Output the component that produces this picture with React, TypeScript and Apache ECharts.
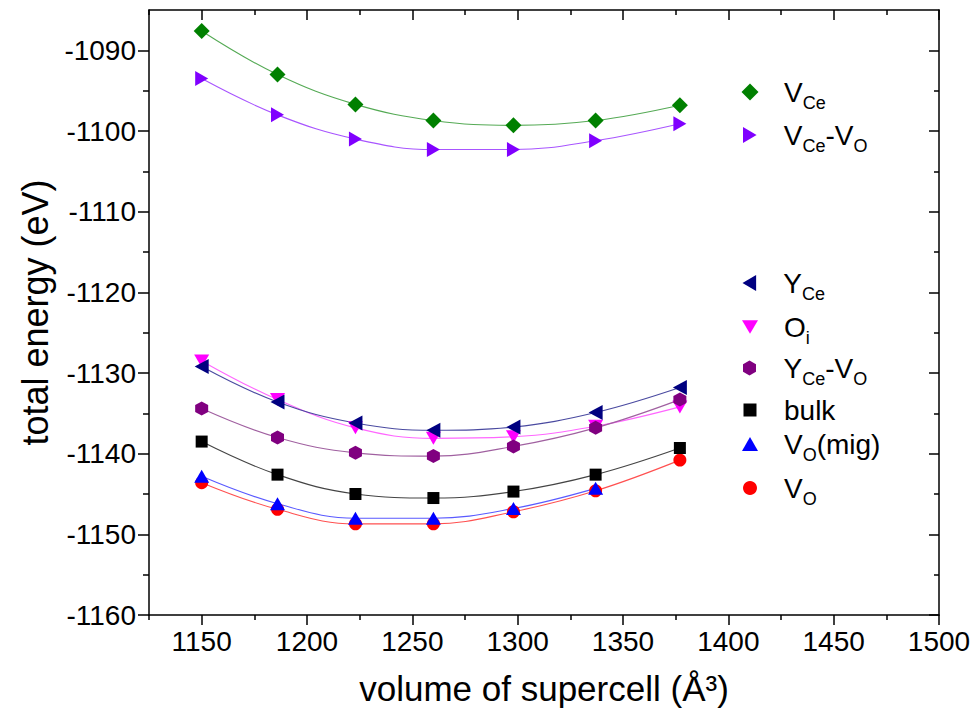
import React, { useEffect, useRef } from "react";
import * as echarts from "echarts";

const volumes = [1150, 1186, 1223, 1260, 1298, 1337, 1377];
const eVCe = [-1087.6, -1093.0, -1096.7, -1098.7, -1099.3, -1098.7, -1096.8];
const eVCeVO = [-1093.5, -1098.0, -1101.0, -1102.3, -1102.3, -1101.2, -1099.1];
const eYCe = [-1129.2, -1133.6, -1136.2, -1137.1, -1136.7, -1134.9, -1131.8];
const eOi = [-1128.5, -1133.3, -1136.8, -1138.1, -1137.9, -1136.6, -1134.2];
const eYCeVO = [-1134.4, -1138.0, -1139.9, -1140.3, -1139.1, -1136.8, -1133.3];
const eBulk = [-1138.5, -1142.6, -1145.0, -1145.5, -1144.7, -1142.6, -1139.3];
const eVOmig = [-1142.8, -1146.2, -1148.0, -1148.0, -1146.8, -1144.3];
const eVO = [-1143.6, -1146.9, -1148.7, -1148.7, -1147.2, -1144.6, -1140.8];

const xMajor = [1150, 1200, 1250, 1300, 1350, 1400, 1450, 1500];
const xMinor = [1125, 1175, 1225, 1275, 1325, 1375, 1425, 1475];
const yMajor = [-1160, -1150, -1140, -1130, -1120, -1110, -1100, -1090];
const yMinor = [-1155, -1145, -1135, -1125, -1115, -1105, -1095];

const FONT = "Liberation Sans";

const SYM = {
  diamond: "path://M0,-1L1,0L0,1L-1,0Z",
  right: "path://M0,0L1.7,1L0,2Z",
  left: "path://M1.7,0L0,1L1.7,2Z",
  down: "path://M0,0L2,0L1,1.7Z",
  hex: "path://M0,-1L0.866,-0.5L0.866,0.5L0,1L-0.866,0.5L-0.866,-0.5Z",
  rect: "rect",
  up: "triangle",
  circle: "circle",
};

type Def = {
  name: string;
  label: string;
  values: number[];
  color: string;
  line: string;
  symbol: string;
  size: [number, number];
  cy: number;
};

const defs: Def[] = [
  { name: "VO", label: "{n|V}{s|O}", values: eVO, color: "#ff0000", line: "#ff5050", symbol: SYM.circle, size: [13, 13], cy: 489 },
  { name: "VOmig", label: "{n|V}{s|O}{n|(mig)}", values: eVOmig, color: "#0000ff", line: "#5a5aff", symbol: SYM.up, size: [15, 13], cy: 445 },
  { name: "bulk", label: "{n|bulk}", values: eBulk, color: "#000000", line: "#444444", symbol: SYM.rect, size: [12, 12], cy: 411 },
  { name: "Oi", label: "{n|O}{s|i}", values: eOi, color: "#ff00ff", line: "#ff66ff", symbol: SYM.down, size: [15, 13], cy: 328 },
  { name: "YCeVO", label: "{n|Y}{s|Ce}{n|-V}{s|O}", values: eYCeVO, color: "#800080", line: "#a060a0", symbol: SYM.hex, size: [13, 14], cy: 369 },
  { name: "YCe", label: "{n|Y}{s|Ce}", values: eYCe, color: "#000080", line: "#4a4aa0", symbol: SYM.left, size: [14, 15], cy: 284 },
  { name: "VCeVO", label: "{n|V}{s|Ce}{n|-V}{s|O}", values: eVCeVO, color: "#8000ff", line: "#a855ff", symbol: SYM.right, size: [13, 15], cy: 136 },
  { name: "VCe", label: "{n|V}{s|Ce}", values: eVCe, color: "#008000", line: "#55aa55", symbol: SYM.diamond, size: [16, 16], cy: 93 },
];

const X_MIN = 1125;
const X_MAX = 1500;
const Y_MIN = -1160;
const Y_MAX = -1085;

export default function App() {
  const ref = useRef<HTMLDivElement>(null);
  useEffect(() => {
    if (!ref.current) return;
    const chart = echarts.init(ref.current, undefined, { renderer: "svg" });
    const lineStyle = { color: "#000", width: 1.5 };
    const baseX = { type: "value", min: X_MIN, max: X_MAX, splitLine: { show: false }, gridIndex: 0 };
    const baseY = { type: "value", min: Y_MIN, max: Y_MAX, splitLine: { show: false }, gridIndex: 0 };
    const legendIconX = 745;
    const textX = 784;
    const legends = defs.map((d) => {
      const w = d.size[0] + 1;
      const h = d.size[1] + 1;
      return {
        show: true,
        selectedMode: false,
        orient: "vertical",
        left: legendIconX - w / 2,
        top: d.cy - 20,
        itemWidth: w,
        itemHeight: h,
        data: [{ name: d.name, icon: d.symbol }],
        formatter: () => d.label,
        textStyle: {
          color: "#000",
          fontFamily: FONT,
          fontSize: 28,
          padding: [0, 0, 0, textX - (legendIconX - w / 2) - w - 10],
          rich: {
            n: { fontSize: 28, lineHeight: 40, fontFamily: FONT, color: "#000" },
            s: { fontSize: 18, lineHeight: 14, verticalAlign: "bottom", fontFamily: FONT, color: "#000" },
          },
        },
      };
    });
    const fmt = (v: number) => String(v);
    const option = {
      animation: false,
      backgroundColor: "#ffffff",
      grid: { left: 149, right: 40, top: 10, bottom: 110, containLabel: false },
      legend: legends,
      xAxis: [
        {
          ...baseX,
          position: "bottom",
          name: "volume of supercell (Å³)",
          nameLocation: "middle",
          nameGap: 56,
          nameTextStyle: { fontFamily: FONT, fontSize: 35, color: "#000" },
          axisLine: { show: true, lineStyle },
          axisTick: { show: true, customValues: xMajor, length: 10, inside: false, lineStyle },
          axisLabel: { show: true, customValues: xMajor, formatter: fmt, fontFamily: FONT, fontSize: 28, color: "#000", margin: 12 },
        },
        {
          ...baseX,
          position: "bottom",
          axisLine: { show: false },
          axisTick: { show: true, customValues: xMinor, length: 5, inside: false, lineStyle },
          axisLabel: { show: false },
        },
        {
          ...baseX,
          position: "top",
          axisLine: { show: true, lineStyle },
          axisTick: { show: true, customValues: xMajor, length: 10, inside: true, lineStyle },
          axisLabel: { show: false },
        },
        {
          ...baseX,
          position: "top",
          axisLine: { show: false },
          axisTick: { show: true, customValues: xMinor, length: 5, inside: true, lineStyle },
          axisLabel: { show: false },
        },
      ],
      yAxis: [
        {
          ...baseY,
          position: "left",
          name: "total energy (eV)",
          nameLocation: "middle",
          nameGap: 92,
          nameTextStyle: { fontFamily: FONT, fontSize: 36, color: "#000" },
          axisLine: { show: true, lineStyle },
          axisTick: { show: true, customValues: yMajor, length: 11, inside: false, lineStyle },
          axisLabel: { show: true, customValues: yMajor, formatter: fmt, fontFamily: FONT, fontSize: 28, color: "#000", margin: 13 },
        },
        {
          ...baseY,
          position: "left",
          axisLine: { show: false },
          axisTick: { show: true, customValues: yMinor, length: 6, inside: false, lineStyle },
          axisLabel: { show: false },
        },
        {
          ...baseY,
          position: "right",
          axisLine: { show: true, lineStyle },
          axisTick: { show: true, customValues: yMajor, length: 10, inside: true, lineStyle },
          axisLabel: { show: false },
        },
        {
          ...baseY,
          position: "right",
          axisLine: { show: false },
          axisTick: { show: true, customValues: yMinor, length: 5, inside: true, lineStyle },
          axisLabel: { show: false },
        },
      ],
      series: defs.map((d) => ({
        name: d.name,
        type: "line",
        xAxisIndex: 0,
        yAxisIndex: 0,
        smooth: 0.4,
        symbol: d.symbol,
        symbolSize: d.size,
        showAllSymbol: true,
        itemStyle: { color: d.color, borderWidth: 0 },
        lineStyle: { color: d.line, width: 1.1 },
        emphasis: { disabled: true },
        data: d.values.map((v, i) => [volumes[i], v]),
      })),
    };
    chart.setOption(option as any);
    return () => chart.dispose();
  }, []);
  return (
    <div
      ref={ref}
      style={{ position: "fixed", left: 0, top: 0, width: 979, height: 725, background: "#fff" }}
    />
  );
}
